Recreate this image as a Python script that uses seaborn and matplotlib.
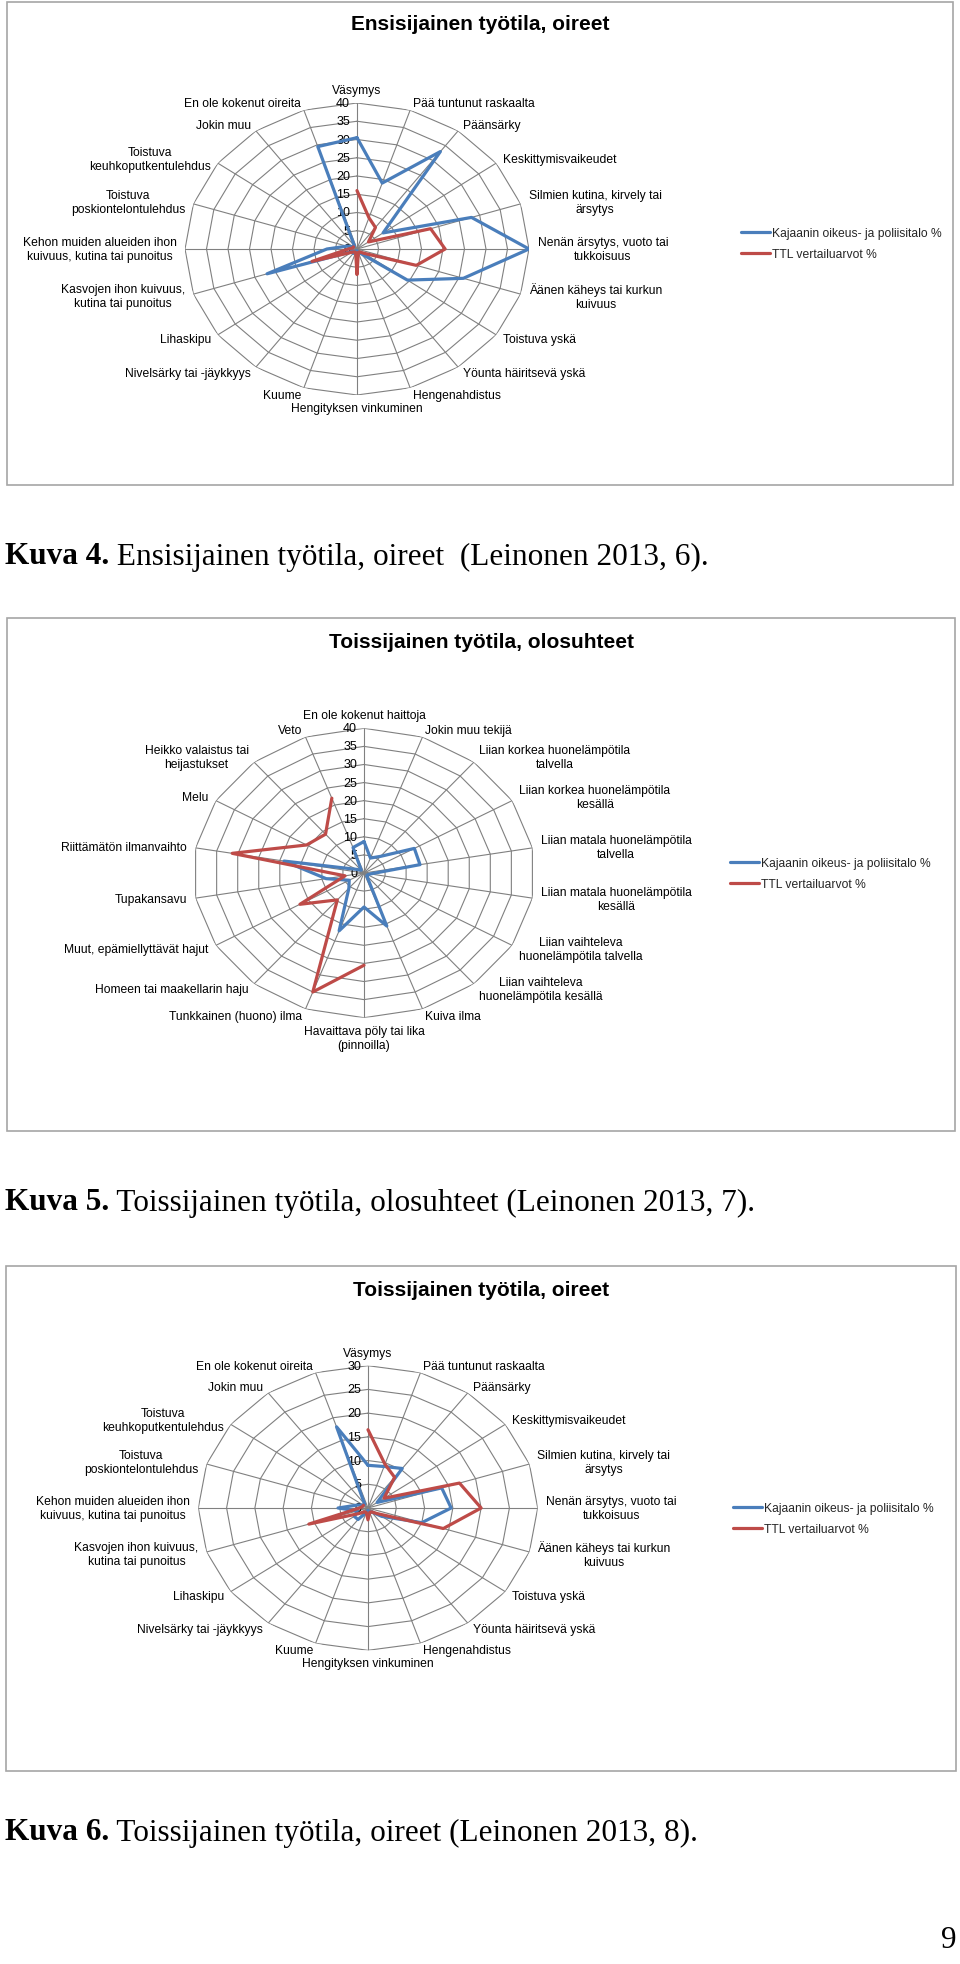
import numpy as np
import pandas as pd
import matplotlib
matplotlib.use('Agg')
import matplotlib.pyplot as plt
import seaborn as sns
from matplotlib.patches import Rectangle

# categories
oire_labels = ['Väsymys', 'Pää tuntunut raskaalta', 'Päänsärky', 'Keskittymisvaikeudet',
               'Silmien kutina, kirvely tai\närsytys', 'Nenän ärsytys, vuoto tai\ntukkoisuus',
               'Äänen käheys tai kurkun\nkuivuus', 'Toistuva yskä', 'Yöunta häiritsevä yskä',
               'Hengenahdistus', 'Hengityksen vinkuminen', 'Kuume', 'Nivelsärky tai -jäykkyys',
               'Lihaskipu', 'Kasvojen ihon kuivuus,\nkutina tai punoitus',
               'Kehon muiden alueiden ihon\nkuivuus, kutina tai punoitus',
               'Toistuva\nposkiontelontulehdus', 'Toistuva\nkeuhkoputkentulehdus',
               'Jokin muu', 'En ole kokenut oireita']
olosuhde_labels = ['En ole kokenut haittoja', 'Jokin muu tekijä',
                   'Liian korkea huonelämpötila\ntalvella', 'Liian korkea huonelämpötila\nkesällä',
                   'Liian matala huonelämpötila\ntalvella', 'Liian matala huonelämpötila\nkesällä',
                   'Liian vaihteleva\nhuonelämpötila talvella', 'Liian vaihteleva\nhuonelämpötila kesällä',
                   'Kuiva ilma', 'Havaittava pöly tai lika\n(pinnoilla)', 'Tunkkainen (huono) ilma',
                   'Homeen tai maakellarin haju', 'Muut, epämiellyttävät hajut', 'Tupakansavu',
                   'Riittämätön ilmanvaihto', 'Melu', 'Heikko valaistus tai\nheijastukset', 'Veto']
series_names = ['Kajaanin oikeus- ja poliisitalo %', 'TTL vertailuarvot %']

# values (%)
nan = np.nan
kajaani_oireet_1 = [30.5, 19, 33, 7.5, 28, 40, 26, 14.5, 1.5, 1, 0.5, 0.5, 1.5, 1, 22, 7, 2.5, 1, 1, 29.5]
ttl_oireet_1 = [16, 9, 7.3, 3.3, 18, 20.5, 14.5, 2, 1, 1, 7, 1, 1, 1.5, 11, 2, 1, 1, nan, nan]
kajaani_olosuhteet = [8.7, 4.4, 6, 13.6, 13.3, 1.5, 1, 1, 15.6, 9.4, 17, 5.5, 4, 9, 19, 2, 1, 7.5]
ttl_olosuhteet = [nan, nan, nan, nan, nan, nan, nan, nan, nan, 25.5, 35, 9.7, 17.3, 4.5, 31.3, 15.5, 14, 22]
kajaani_oireet_2 = [9, 9.2, 10.3, 2, 13.7, 14.7, 10, 3, 1, 1, 0.5, 1, 3, 3, 2, 5.3, 2, 1, 1, 18]
ttl_oireet_2 = [16.5, 9.7, 8, 3.5, 17, 20, 14, 2, 1, 1, 2.5, 1, 1, 2, 11, 1.5, 1, 1, nan, nan]

BLUE = '#4A7EBB'
RED = '#BE4B48'
GRID = '#808080'

W, H = 960, 1965
sns.set_theme(style='white')
plt.rcParams['font.family'] = ['Liberation Sans', 'DejaVu Sans']

fig = plt.figure(figsize=(W / 100, H / 100), dpi=100)


def fx(x):
    return x / W


def fy(y):
    return 1 - y / H


def radar(cx, cy, rx, ry, labels, blue, red, rmax, title, title_y, leg_x, leg_y, box):
    # chart frame
    x0, y0, x1, y1 = box
    fig.add_artist(Rectangle((fx(x0), fy(y1)), (x1 - x0) / W, (y1 - y0) / H,
                             transform=fig.transFigure, fill=False, ec='#A6A6A6', lw=1.2))
    fig.text(fx((x0 + x1) / 2), fy(title_y), title, ha='center', va='center',
             fontsize=15, fontweight='bold', color='black')

    ax = fig.add_axes([fx(cx - rx), fy(cy + ry), 2 * rx / W, 2 * ry / H], projection='polar')
    ax.set_aspect('auto')
    ax.set_theta_zero_location('N')
    ax.set_theta_direction(-1)
    ax.set_ylim(0, rmax)
    ax.grid(False)
    ax.set_xticks([])
    ax.set_yticks([])
    ax.spines['polar'].set_visible(False)

    n = len(labels)
    theta = np.linspace(0, 2 * np.pi, n, endpoint=False)
    ring = np.append(theta, theta[0])
    for r in range(5, rmax + 1, 5):
        ax.plot(ring, [r] * (n + 1), color=GRID, lw=0.8, zorder=1)
    for t in theta:
        ax.plot([t, t], [0, rmax], color=GRID, lw=0.8, zorder=1)
    for r in range(0, rmax + 1, 5):
        ax.annotate(str(r), xy=(0, r), xytext=(-5, 0), textcoords='offset points',
                    ha='right', va='center', fontsize=9, color='black')

    for vals, col, name in [(blue, BLUE, series_names[0]), (red, RED, series_names[1])]:
        df = pd.DataFrame({'theta': theta, 'value': vals})
        if not df['value'].isna().any():
            df = pd.concat([df, df.iloc[[0]].assign(theta=2 * np.pi)])
        df = df.dropna()
        sns.lineplot(data=df, x='theta', y='value', ax=ax, sort=False, estimator=None,
                     color=col, lw=2.3, label=name, zorder=3)
    ax.set_xlabel('')
    ax.set_ylabel('')

    for t, lab in zip(theta, labels):
        deg = np.degrees(t)
        if deg < 1:
            ha, va = 'center', 'bottom'
        elif abs(deg - 180) < 1:
            ha, va = 'center', 'top'
        elif deg < 180:
            ha, va = 'left', 'center'
        else:
            ha, va = 'right', 'center'
        ax.text(t, rmax * 1.05, lab, ha=ha, va=va, multialignment='center',
                fontsize=8.7, color='black')

    ax.legend(loc='center left', bbox_to_anchor=(fx(leg_x), fy(leg_y)),
              bbox_transform=fig.transFigure, frameon=False, fontsize=8.7,
              handlelength=2.4, handletextpad=0.2, labelspacing=0.75, borderpad=0,
              borderaxespad=0)
    return ax


radar(357, 250, 172, 146, oire_labels, kajaani_oireet_1, ttl_oireet_1, 40,
      'Ensisijainen työtila, oireet', 25, 741, 244.5, (7, 3, 953, 486))
radar(364, 874, 171, 144.7, olosuhde_labels, kajaani_olosuhteet, ttl_olosuhteet, 40,
      'Toissijainen työtila, olosuhteet', 643, 730, 874.5, (7, 619, 955, 1132))
radar(368, 1509, 169.7, 142.3, oire_labels, kajaani_oireet_2, ttl_oireet_2, 30,
      'Toissijainen työtila, oireet', 1291, 733, 1519.5, (6, 1267, 956, 1772))

# captions
renderer = fig.canvas.get_renderer()
captions = [(557, 'Kuva 4.', ' Ensisijainen työtila, oireet  (Leinonen 2013, 6).'),
            (1203, 'Kuva 5.', ' Toissijainen työtila, olosuhteet (Leinonen 2013, 7).'),
            (1833, 'Kuva 6.', ' Toissijainen työtila, oireet (Leinonen 2013, 8).')]
for y, bold, rest in captions:
    t1 = fig.text(fx(5), fy(y), bold, ha='left', va='center', fontsize=22.5,
                  fontweight='bold', family='Liberation Serif', color='black')
    bb = t1.get_window_extent(renderer)
    fig.text(bb.x1 / W, fy(y), rest, ha='left', va='center', fontsize=22.5,
             family='Liberation Serif', color='black')

fig.text(fx(956), fy(1941), '9', ha='right', va='center', fontsize=22.5,
         family='Liberation Serif', color='black')

fig.savefig('out.png', dpi=100)
